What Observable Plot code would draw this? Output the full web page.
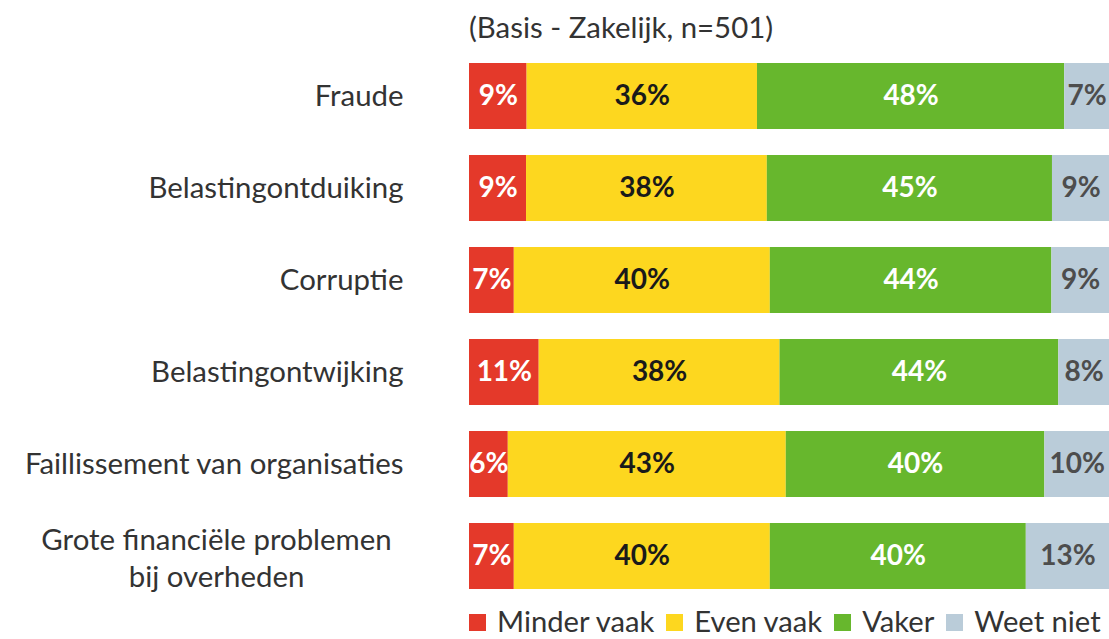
<!DOCTYPE html>
<html><head><meta charset="utf-8">
<script src="https://cdn.jsdelivr.net/npm/d3@7"></script>
<script src="https://cdn.jsdelivr.net/npm/@observablehq/plot@0.6"></script>
<style>
body{margin:0;background:#fff;font-family:Lato,sans-serif;}
#wrap{position:relative;width:1109px;height:639px;overflow:hidden;}
#title{position:absolute;left:469px;top:10px;font-size:29.4px;color:#333;line-height:34px;white-space:nowrap;}
#chart{position:absolute;left:0;top:50px;}
#legend{position:absolute;left:469px;top:607px;height:28px;display:flex;align-items:center;font-size:29.2px;color:#333;line-height:28px;white-space:nowrap;}
.item{display:flex;align-items:center;margin-right:12px;}
.sw{width:17px;height:17px;margin-right:11px;margin-top:3px;}
</style></head>
<body><div id="wrap"><div id="title"></div><div id="chart"></div><div id="legend"></div></div>
<script>
const title = "(Basis - Zakelijk, n=501)";
const categories = ["Fraude","Belastingontduiking","Corruptie","Belastingontwijking","Faillissement van organisaties","Grote financiële problemen\nbij overheden"];
const seriesNames = ["Minder vaak","Even vaak","Vaker","Weet niet"];
const minderVaak = [9,9,7,11,6,7];
const evenVaak = [36,38,40,38,43,40];
const vaker = [48,45,44,44,40,40];
const weetNiet = [7,9,9,8,10,13];
const seriesColors = ["#E4392A","#FDD71F","#67B72D","#BACCD9"];
const labelColors = ["#ffffff","#1a1a1a","#ffffff","#4d4d4d"];

const seriesValues = [minderVaak, evenVaak, vaker, weetNiet];
const data = [];
categories.forEach((cat, i) => {
  seriesNames.forEach((s, j) => {
    data.push({cat, series: s, value: seriesValues[j][i], fill: seriesColors[j], textFill: labelColors[j]});
  });
});
const single = categories.filter(c => !c.includes("\n"));
const multi = categories.filter(c => c.includes("\n"));

const chart = Plot.plot({
  width: 1109, height: 560,
  marginLeft: 469, marginRight: 0, marginTop: 12, marginBottom: 20,
  style: {fontFamily: "Lato, sans-serif", fontSize: "29px", background: "#fff"},
  x: {axis: null, domain: [0, 1]},
  y: {axis: null, domain: categories, paddingInner: 0.28, paddingOuter: 0},
  color: {type: "identity"},
  marks: [
    Plot.barX(data, Plot.stackX({x: "value", y: "cat", z: "series", offset: "normalize", fill: "fill"})),
    Plot.text(data, Plot.stackX({x: "value", y: "cat", z: "series", offset: "normalize",
      text: d => d.value + "%", fill: "textFill", fontWeight: "bold", fontSize: 28})),
    Plot.text(single, {y: d => d, frameAnchor: "left", dx: -66, textAnchor: "end", fontSize: 29.4, fill: "#333"}),
    Plot.text(multi, {y: d => d, frameAnchor: "left", dx: -253, textAnchor: "middle", lineHeight: 1.27, fontSize: 29.4, fill: "#333"})
  ]
});
document.getElementById("chart").appendChild(chart);
document.getElementById("title").textContent = title;
const leg = document.getElementById("legend");
seriesNames.forEach((s, j) => {
  const it = document.createElement("div"); it.className = "item";
  const sw = document.createElement("div"); sw.className = "sw"; sw.style.background = seriesColors[j];
  const tx = document.createElement("span"); tx.textContent = s;
  it.appendChild(sw); it.appendChild(tx); leg.appendChild(it);
});
</script></body></html>
